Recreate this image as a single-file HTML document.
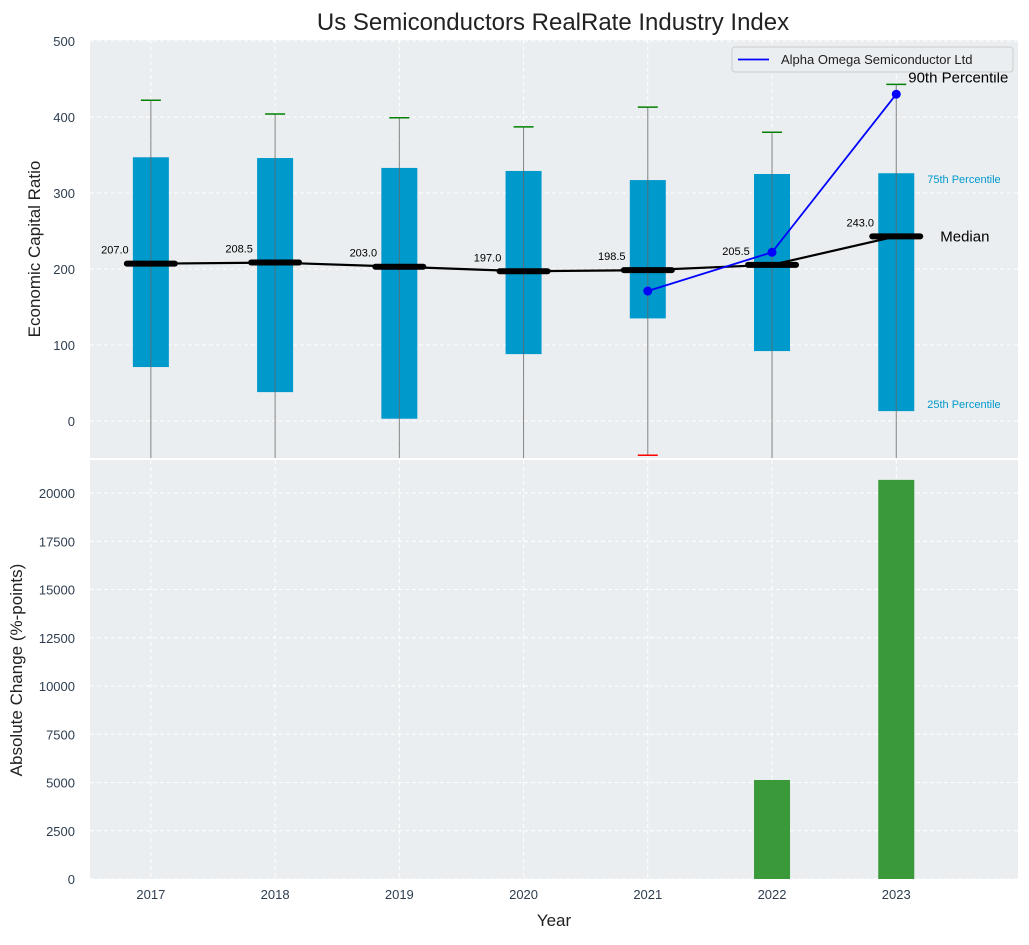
<!DOCTYPE html>
<html><head><meta charset="utf-8"><style>
body{margin:0;background:#fff;font-family:"Liberation Sans",sans-serif}
svg text{font-family:"Liberation Sans",sans-serif}
</style></head><body>
<svg id="c" width="1029" height="940" xmlns="http://www.w3.org/2000/svg"></svg>
<script>
const years=[2017,2018,2019,2020,2021,2022,2023];
const q25=[71,38,3,88,135,92,13];
const q75=[347,346,333,329,317,325,326];
const medians=[207,208.5,203,197,198.5,205.5,243];
const wTop=[422,404,399,387,413,380,443];
const wBot=[-100,-100,-100,-100,-45,-100,-100];
const compYears=[2021,2022,2023];
const compVals=[171,222,430];
const changeYears=[2022,2023];
const changeVals=[5130,20680];
const yTicks1=[0,100,200,300,400,500];
const yTicks2=[0,2500,5000,7500,10000,12500,15000,17500,20000];

const NS="http://www.w3.org/2000/svg";
const svg=document.getElementById('c');
function el(t,a,p){const e=document.createElementNS(NS,t);for(const k in a)e.setAttribute(k,a[k]);(p||svg).appendChild(e);return e;}
const L=90,R=1018,T1=40,B1=458,T2=460,B2=879;
const x=v=>L+(v-2016.51)/(2023.98-2016.51)*(R-L);
const y1=v=>421-v*0.76;
const y2=v=>B2-v/20000*(B2-493);

let e;
e=el('rect',{x:L,y:T1,width:R-L,height:B1-T1,fill:'#eaeef0'});

e=el('rect',{x:L,y:T2,width:R-L,height:B2-T2,fill:'#eaeef0'});

// grids
years.forEach(yr=>{
 el('line',{x1:x(yr),x2:x(yr),y1:T1,y2:B1,stroke:'#fff','stroke-dasharray':'4,3'});
 el('line',{x1:x(yr),x2:x(yr),y1:T2,y2:B2,stroke:'#fff','stroke-dasharray':'4,3'});
 e=el('text',{x:x(yr),y:899,'text-anchor':'middle','font-size':13,fill:'#2e3e50'});e.textContent=yr;
 
});
yTicks1.forEach(v=>{
 el('line',{x1:L,x2:R,y1:y1(v),y2:y1(v),stroke:'#fff','stroke-dasharray':'4,3'});
 e=el('text',{x:L-15,y:y1(v)+5,'text-anchor':'end','font-size':13,fill:'#2e3e50'});e.textContent=v;
 
});
yTicks2.forEach(v=>{
 el('line',{x1:L,x2:R,y1:y2(v),y2:y2(v),stroke:'#fff','stroke-dasharray':'4,3'});
 e=el('text',{x:L-15,y:y2(v)+5,'text-anchor':'end','font-size':13,fill:'#2e3e50'});e.textContent=v;
 
});
// clip for top
const cp=el('clipPath',{id:'cp1'});el('rect',{x:L,y:T1,width:R-L,height:B1-T1},cp);
const g=el('g',{'clip-path':'url(#cp1)'});
years.forEach((yr,i)=>{
 const cx=x(yr);
 e=el('rect',{x:cx-18,y:y1(q75[i]),width:36,height:y1(q25[i])-y1(q75[i]),fill:'#0099cc'},g);
 
 e=el('line',{x1:cx,x2:cx,y1:y1(wTop[i]),y2:y1(wBot[i]),stroke:'#666','stroke-width':1,opacity:0.8},g);
 
 e=el('line',{x1:cx-10,x2:cx+10,y1:y1(wTop[i]),y2:y1(wTop[i]),stroke:'green','stroke-width':1.5},g);
 
 e=el('line',{x1:cx-10,x2:cx+10,y1:y1(wBot[i]),y2:y1(wBot[i]),stroke:'red','stroke-width':1.5},g);
 
});
e=el('polyline',{points:years.map((yr,i)=>x(yr)+','+y1(medians[i])).join(' '),fill:'none',stroke:'#000','stroke-width':2.2},g);

years.forEach((yr,i)=>{
 const cx=x(yr);
 e=el('line',{x1:cx-24,x2:cx+24,y1:y1(medians[i]),y2:y1(medians[i]),stroke:'#000','stroke-width':6,'stroke-linecap':'round'},g);
 
 e=el('text',{x:cx-36,y:y1(medians[i])-10,'text-anchor':'middle','font-size':11,fill:'#000'});e.textContent=medians[i].toFixed(1);
 
});
e=el('polyline',{points:compYears.map((yr,i)=>x(yr)+','+y1(compVals[i])).join(' '),fill:'none',stroke:'blue','stroke-width':1.8},g);

compYears.forEach((yr,i)=>{e=el('circle',{cx:x(yr),cy:y1(compVals[i]),r:4.5,fill:'blue'},g);
 });
const last=years.length-1, lx=x(years[last]);
e=el('text',{x:lx+31,y:y1(q75[last])+10,'font-size':11,fill:'#0099cc'});e.textContent='75th Percentile';

e=el('text',{x:lx+31,y:y1(q25[last])-3,'font-size':11,fill:'#0099cc'});e.textContent='25th Percentile';

e=el('text',{x:lx+44,y:y1(medians[last])+5,'font-size':15,fill:'#000'});e.textContent='Median';

e=el('text',{x:lx+12,y:y1(wTop[last])-2,'font-size':15,fill:'#000'});e.textContent='90th Percentile';

// legend
e=el('rect',{x:732,y:47,width:281,height:25,rx:3,fill:'#eaeef0',stroke:'#ccc'});

el('line',{x1:738,x2:769,y1:59.5,y2:59.5,stroke:'blue','stroke-width':1.8});
e=el('text',{x:781,y:64,'font-size':13,fill:'#222'});e.textContent='Alpha Omega Semiconductor Ltd';

// bars
changeYears.forEach((yr,i)=>{
 e=el('rect',{x:x(yr)-18,y:y2(changeVals[i]),width:36,height:B2-y2(changeVals[i]),fill:'#3a9a3a'});
 
});
// titles
e=el('text',{x:553,y:30,'text-anchor':'middle','font-size':24,fill:'#222'});e.textContent='Us Semiconductors RealRate Industry Index';

e=el('text',{x:554,y:926,'text-anchor':'middle','font-size':17,fill:'#222'});e.textContent='Year';

e=el('text',{x:0,y:0,'text-anchor':'middle','font-size':17,fill:'#222',transform:'translate(40,249) rotate(-90)'});e.textContent='Economic Capital Ratio';

e=el('text',{x:0,y:0,'text-anchor':'middle','font-size':17,fill:'#222',transform:'translate(22,670) rotate(-90)'});e.textContent='Absolute Change (%-points)';

</script>
</body></html>
